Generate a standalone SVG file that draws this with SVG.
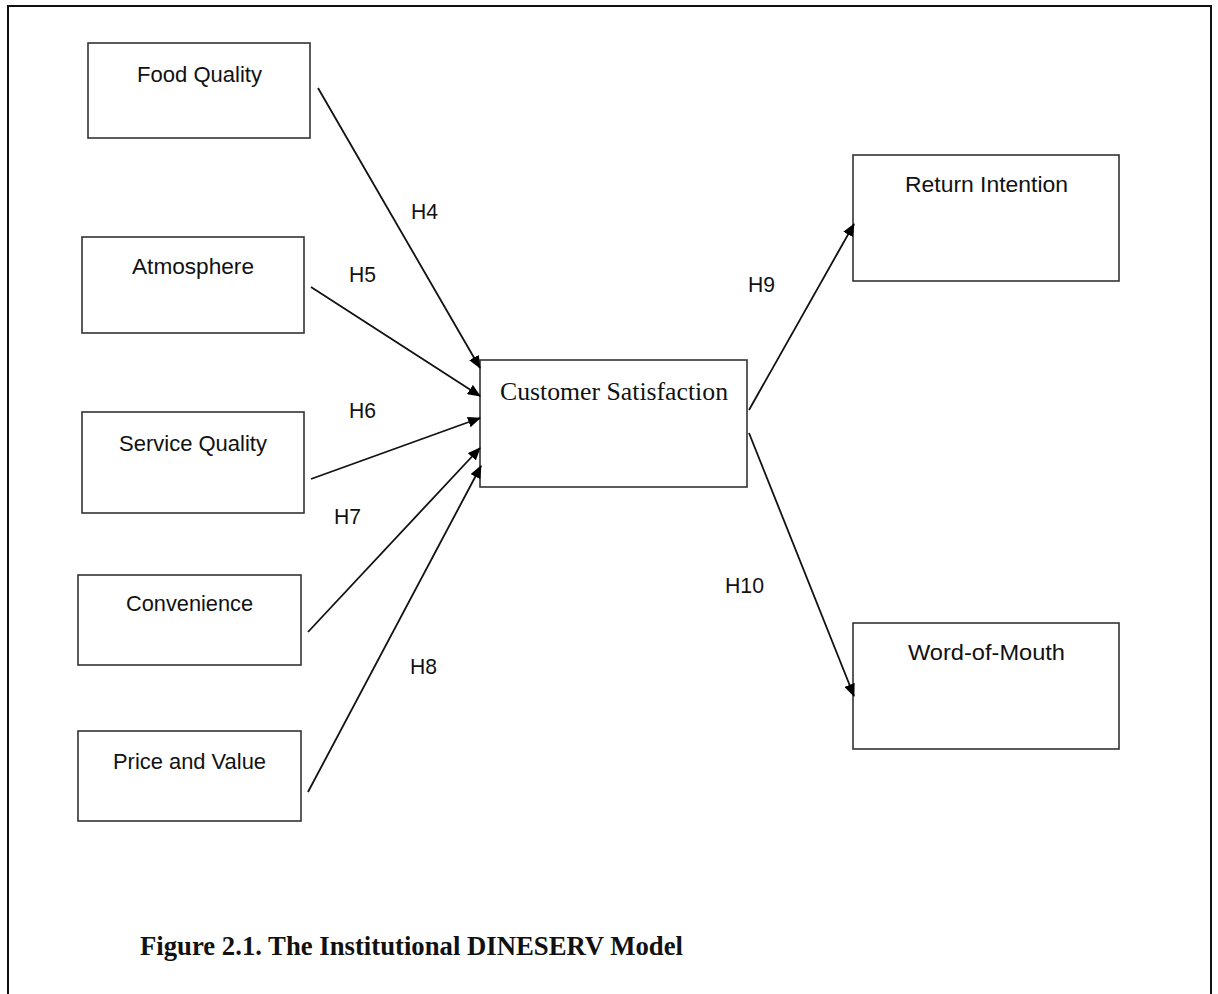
<svg xmlns="http://www.w3.org/2000/svg" width="1218" height="994" viewBox="0 0 1218 994">
<style>
.box{fill:#fff;stroke:#333;stroke-width:1.6}
.lbl{font-family:"Liberation Sans",Arial,sans-serif;font-size:22px;fill:#111;text-anchor:middle}
.h{font-family:"Liberation Sans",Arial,sans-serif;font-size:22px;fill:#111}
.conn line{stroke:#111;stroke-width:1.8;marker-end:url(#arr)}
</style>
<defs>
<marker id="arr" viewBox="0 0 13 11" refX="12" refY="5.5" markerWidth="13" markerHeight="11" markerUnits="userSpaceOnUse" orient="auto">
<path d="M0,0 L13,5.5 L0,11 z" fill="#000"/>
</marker>
</defs>
<rect width="1218" height="994" fill="#fff"/>
<path d="M8,1000 L8,6 L1211,6 L1211,1000" fill="none" stroke="#111" stroke-width="2"/>
<g id="food"><rect class="box" x="88" y="43" width="222" height="95"/><text class="lbl" x="199.5" y="82" textLength="125" lengthAdjust="spacingAndGlyphs">Food Quality</text></g>
<g id="atmosphere"><rect class="box" x="82" y="237" width="222" height="96"/><text class="lbl" x="193" y="274" textLength="122" lengthAdjust="spacingAndGlyphs">Atmosphere</text></g>
<g id="service"><rect class="box" x="82" y="412" width="222" height="101"/><text class="lbl" x="193" y="451" textLength="148" lengthAdjust="spacingAndGlyphs">Service Quality</text></g>
<g id="convenience"><rect class="box" x="78" y="575" width="223" height="90"/><text class="lbl" x="189.5" y="611" textLength="127" lengthAdjust="spacingAndGlyphs">Convenience</text></g>
<g id="price"><rect class="box" x="78" y="731" width="223" height="90"/><text class="lbl" x="189.5" y="769" textLength="153" lengthAdjust="spacingAndGlyphs">Price and Value</text></g>
<g id="satisfaction"><rect class="box" x="480" y="360" width="267" height="127"/><text x="614" y="400" font-family="Liberation Serif,'Times New Roman',serif" font-size="25" fill="#111" text-anchor="middle" textLength="228" lengthAdjust="spacingAndGlyphs">Customer Satisfaction</text></g>
<g id="return"><rect class="box" x="853" y="155" width="266" height="126"/><text class="lbl" x="986.5" y="192" textLength="163" lengthAdjust="spacingAndGlyphs">Return Intention</text></g>
<g id="wom"><rect class="box" x="853" y="623" width="266" height="126"/><text class="lbl" x="986.5" y="660" textLength="157" lengthAdjust="spacingAndGlyphs">Word-of-Mouth</text></g>
<g id="connectors" class="conn">
<line x1="318" y1="88" x2="480" y2="368"/>
<line x1="311" y1="287" x2="480" y2="396"/>
<line x1="311" y1="479" x2="480" y2="418"/>
<line x1="308" y1="632" x2="480" y2="448"/>
<line x1="308" y1="792" x2="481" y2="466"/>
<line x1="749" y1="410" x2="854" y2="224"/>
<line x1="749" y1="433" x2="854" y2="696"/>
</g>
<g id="labels">
<text class="h" x="411" y="219" textLength="27" lengthAdjust="spacingAndGlyphs">H4</text>
<text class="h" x="349" y="282" textLength="27" lengthAdjust="spacingAndGlyphs">H5</text>
<text class="h" x="349" y="418" textLength="27" lengthAdjust="spacingAndGlyphs">H6</text>
<text class="h" x="334" y="524" textLength="27" lengthAdjust="spacingAndGlyphs">H7</text>
<text class="h" x="410" y="674" textLength="27" lengthAdjust="spacingAndGlyphs">H8</text>
<text class="h" x="748" y="292" textLength="27" lengthAdjust="spacingAndGlyphs">H9</text>
<text class="h" x="725" y="593" textLength="39" lengthAdjust="spacingAndGlyphs">H10</text>
</g>
<text x="140" y="955" font-family="Liberation Serif,'Times New Roman',serif" font-weight="bold" font-size="27" fill="#111" textLength="543" lengthAdjust="spacingAndGlyphs">Figure 2.1. The Institutional DINESERV Model</text>
</svg>
